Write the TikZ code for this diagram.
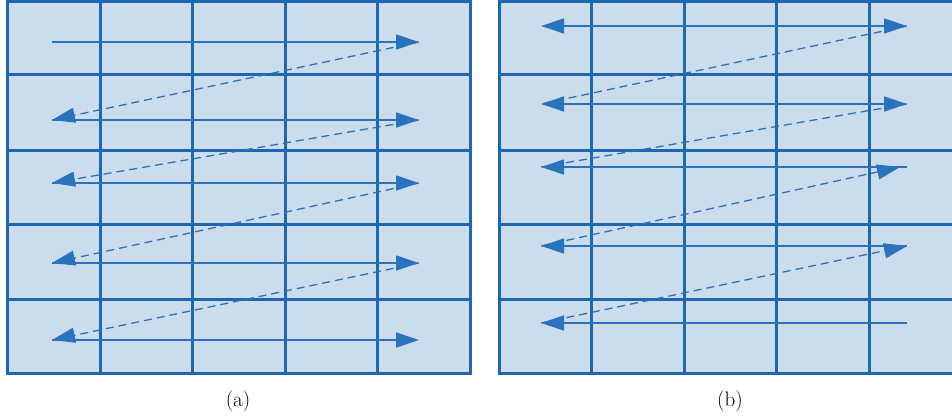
\documentclass[tikz,border=0pt]{standalone}
\usepackage{fontspec}
\usetikzlibrary{arrows.meta}
\definecolor{cellfill}{RGB}{203,220,237}
\definecolor{gridblue}{RGB}{31,102,176}
\definecolor{arrowblue}{RGB}{42,114,188}
\tikzset{
  gridline/.style={draw=gridblue,line width=3pt},
  scanline/.style={draw=arrowblue,line width=1.3pt},
  jumpline/.style={draw=arrowblue,line width=1.3pt,dash pattern=on 8pt off 5pt},
  tip/.style={-{Triangle[length=23pt,width=15pt]}},
  tipboth/.style={{Triangle[length=23pt,width=15pt]}-{Triangle[length=23pt,width=15pt]}},
  tipback/.style={{Triangle[length=23pt,width=15pt]}-},
  caption/.style={font=\fontsize{21}{24}\selectfont,text=black,inner sep=0pt}
}
\begin{document}
\begin{tikzpicture}[x=1pt,y=-1pt]
\useasboundingbox (0,0) rectangle (952,417);

% ---- panel (a): 5x5 grid ----
\fill[cellfill] (7,1.5) rectangle (470,373);
\foreach \x in {100,192,285,377}
  \draw[gridline] (\x,1.5) -- (\x,373);
\foreach \y in {75,150,224,299}
  \draw[gridline] (7,\y) -- (470,\y);
\draw[gridline] (7,1.5) rectangle (470,373);

% scan rows of panel (a)
\foreach \i/\y in {1/42,2/120,3/183,4/263,5/340}{
  \coordinate (aL\i) at (52,\y);
  \coordinate (aR\i) at (419,\y);
}
\foreach \i in {1,...,5}
  \draw[scanline,tip] (aL\i) -- (aR\i);
\foreach \i/\j in {1/2,2/3,3/4,4/5}
  \draw[jumpline,tip] (aR\i) -- (aL\j);

\node[caption] (capa) at (238,401.5) {(a)};

% ---- panel (b): grid running off the right edge ----
\fill[cellfill] (499,1.5) rectangle (953,373);
\foreach \x in {591,684,776,869}
  \draw[gridline] (\x,1.5) -- (\x,373);
\foreach \y in {75,150,224,299}
  \draw[gridline] (499,\y) -- (953,\y);
\draw[gridline] (953,1.5) -- (499,1.5) -- (499,373) -- (953,373);

\foreach \i/\y in {1/26,2/104,3/167,4/246,5/323}{
  \coordinate (bL\i) at (541,\y);
  \coordinate (bR\i) at (907,\y);
}
\coordinate (bT3) at (900,167);

\draw[scanline,tipboth] (bL1) -- (bR1);
\draw[scanline,tipboth] (bL2) -- (bR2);
\draw[scanline,tipback] (bL3) -- (bR3);
\draw[scanline,tipback] (bL4) -- (bR4);
\draw[scanline,tipback] (bL5) -- (bR5);

\draw[jumpline] (bR1) -- (bL2);
\draw[jumpline] (bR2) -- (bL3);
\draw[jumpline,tip] (bL4) -- (bT3);
\draw[jumpline,tip] (bL5) -- (bR4);

\node[caption] (capb) at (730,401.5) {(b)};
\end{tikzpicture}
\end{document}
